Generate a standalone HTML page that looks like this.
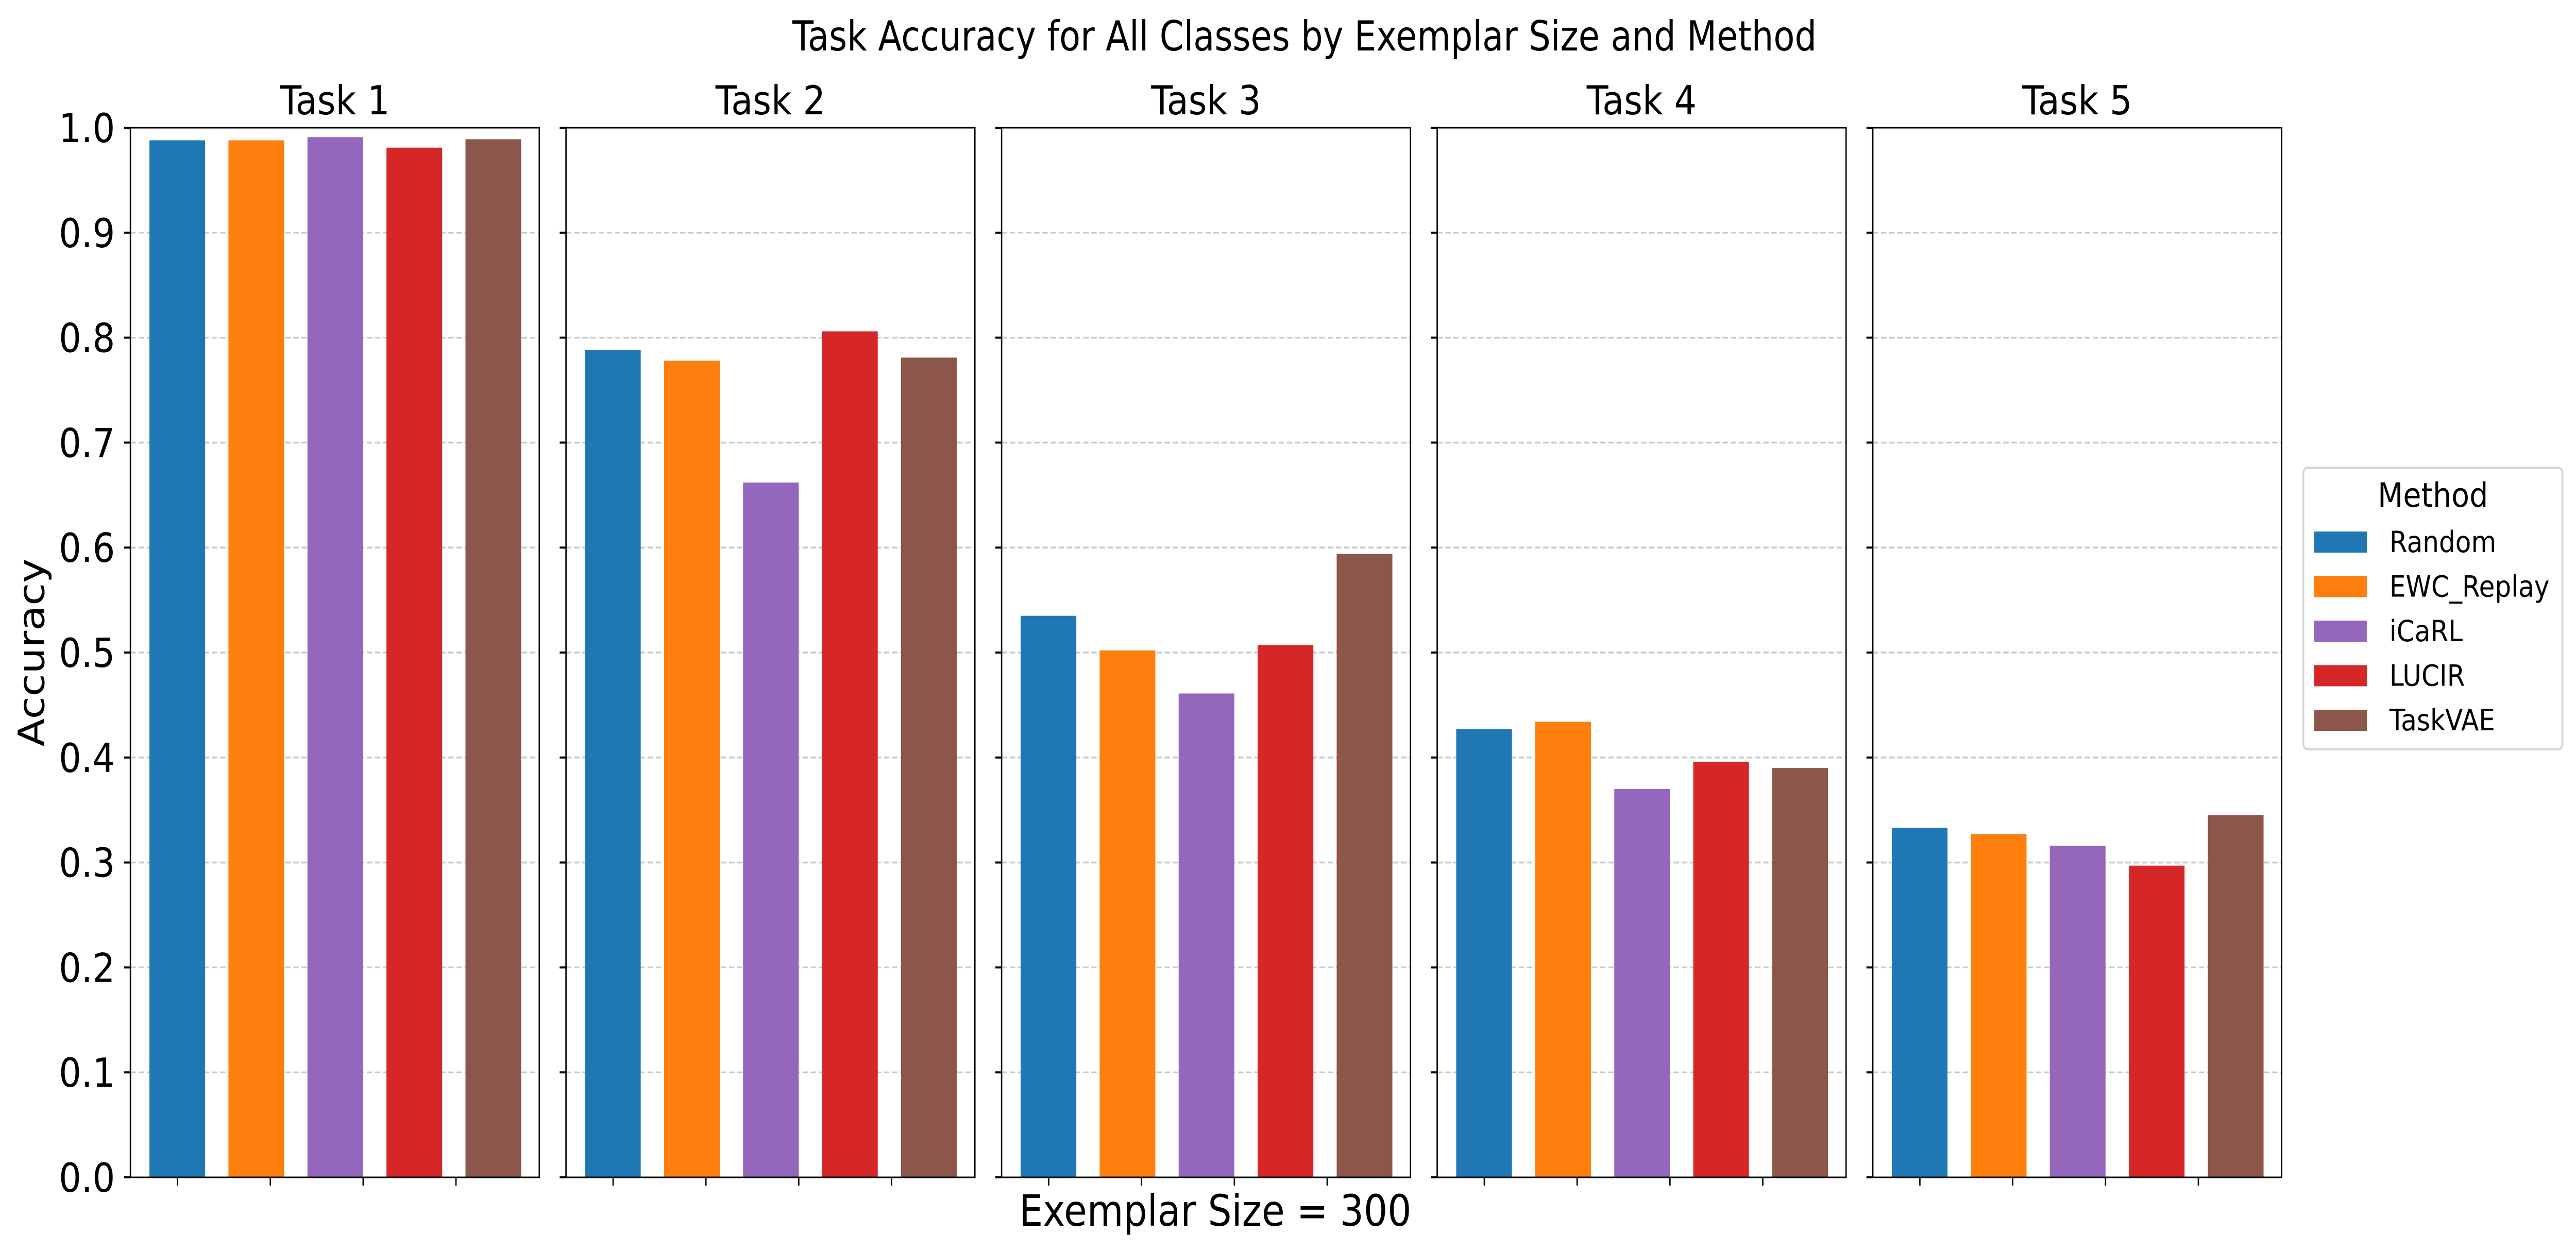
<!DOCTYPE html>
<html><head><meta charset="utf-8"><style>html,body{margin:0;padding:0;background:#fff;width:100%;height:100%;overflow:hidden}svg{display:block;width:100vw;height:100vh}</style></head>
<body>
<svg id="chart" viewBox="0 0 5689 2429" preserveAspectRatio="none" xmlns="http://www.w3.org/2000/svg" font-family="'DejaVu Sans','Liberation Sans',sans-serif">
<rect width="5689" height="2429" fill="#fff"/>
<text x="2881" y="98" font-size="80" text-anchor="middle" textLength="2262" lengthAdjust="spacingAndGlyphs">Task Accuracy for All Classes by Exemplar Size and Method</text>
<text transform="translate(97,1267) rotate(-90)" font-size="80" text-anchor="middle">Accuracy</text>
<text x="2684" y="2380" font-size="84" text-anchor="middle" textLength="866" lengthAdjust="spacingAndGlyphs">Exemplar Size = 300</text>
<g id="panels"></g>
<g id="legend">
<rect x="5087" y="908" width="572" height="547" rx="10" fill="#fff" stroke="#d4d4d4" stroke-width="4"/>
<text x="5373" y="984" font-size="65" text-anchor="middle">Method</text>
</g>
</svg>
<script>
const tasks = ["Task 1","Task 2","Task 3","Task 4","Task 5"];
const methods = ["Random","EWC_Replay","iCaRL","LUCIR","TaskVAE"];
const colors = ["#1f77b4","#ff7f0e","#9467bd","#d62728","#8c564b"];
const randomVals = [0.988,0.788,0.535,0.427,0.333];
const ewcVals = [0.988,0.778,0.502,0.434,0.327];
const icarlVals = [0.991,0.662,0.461,0.370,0.316];
const lucirVals = [0.981,0.806,0.507,0.396,0.297];
const taskvaeVals = [0.989,0.781,0.594,0.390,0.345];
const yTicks = [0.0,0.1,0.2,0.3,0.4,0.5,0.6,0.7,0.8,0.9,1.0];
const yTickLabels = ["0.0","0.1","0.2","0.3","0.4","0.5","0.6","0.7","0.8","0.9","1.0"];

const NS="http://www.w3.org/2000/svg";
const Y0=2286, Y1=248, PW=903, PITCH=962, PL=288;
const y = v => Y0 - v*(Y0-Y1);
const series=[randomVals,ewcVals,icarlVals,lucirVals,taskvaeVals];
const panelsG=document.getElementById('panels');
function mk(tag,attrs,parent){const e=document.createElementNS(NS,tag);for(const k in attrs)e.setAttribute(k,attrs[k]);parent.appendChild(e);return e;}

tasks.forEach((t,ti)=>{
  const L=PL+ti*PITCH, R=L+PW;
  const g=mk('g',{},panelsG);
  
  
  yTicks.forEach((v,i)=>{
    if(i>0 && i<yTicks.length-1){
      const gl=mk('line',{x1:L,x2:R,y1:y(v),y2:y(v),stroke:'#c8c8c8','stroke-width':3.5,'stroke-dasharray':'12 6'},g);
      
      
    }
    const tk=mk('line',{x1:L-14,x2:L,y1:y(v),y2:y(v),stroke:'#000','stroke-width':4},g);
    
    
    if(ti===0){
      const tl=mk('text',{x:L-34,y:y(v)+28,'font-size':78,'text-anchor':'end'},g);
      tl.textContent=yTickLabels[i];
      
      
    }
  });
  methods.forEach((m,mi)=>{
    const v=series[mi][ti];
    const b=mk('rect',{x:L+42+mi*174.5,y:y(v),width:123,height:Y0-y(v),fill:colors[mi]},g);
    
    
  });
  for(let k=0;k<4;k++){
    const xt=mk('line',{x1:L+104+k*205,x2:L+104+k*205,y1:Y0,y2:Y0+16,stroke:'#000','stroke-width':3},g);
    
    
  }
  const fr=mk('rect',{x:L,y:Y1,width:PW,height:Y0-Y1,fill:'none',stroke:'#000','stroke-width':3},g);
  
  
  const tt=mk('text',{x:L+PW/2,y:222,'font-size':78,'text-anchor':'middle'},g);
  tt.textContent=t;
  
  
});

const lg=document.getElementById('legend');
methods.forEach((m,mi)=>{
  const yy=1032+mi*86.5;
  const p=mk('rect',{x:5111,y:yy,width:116,height:41,fill:colors[mi]},lg);
  
  
  const tx=mk('text',{x:5277,y:yy+40,'font-size':57},lg);
  tx.textContent=m;
  
  
});
</script>
</body></html>
